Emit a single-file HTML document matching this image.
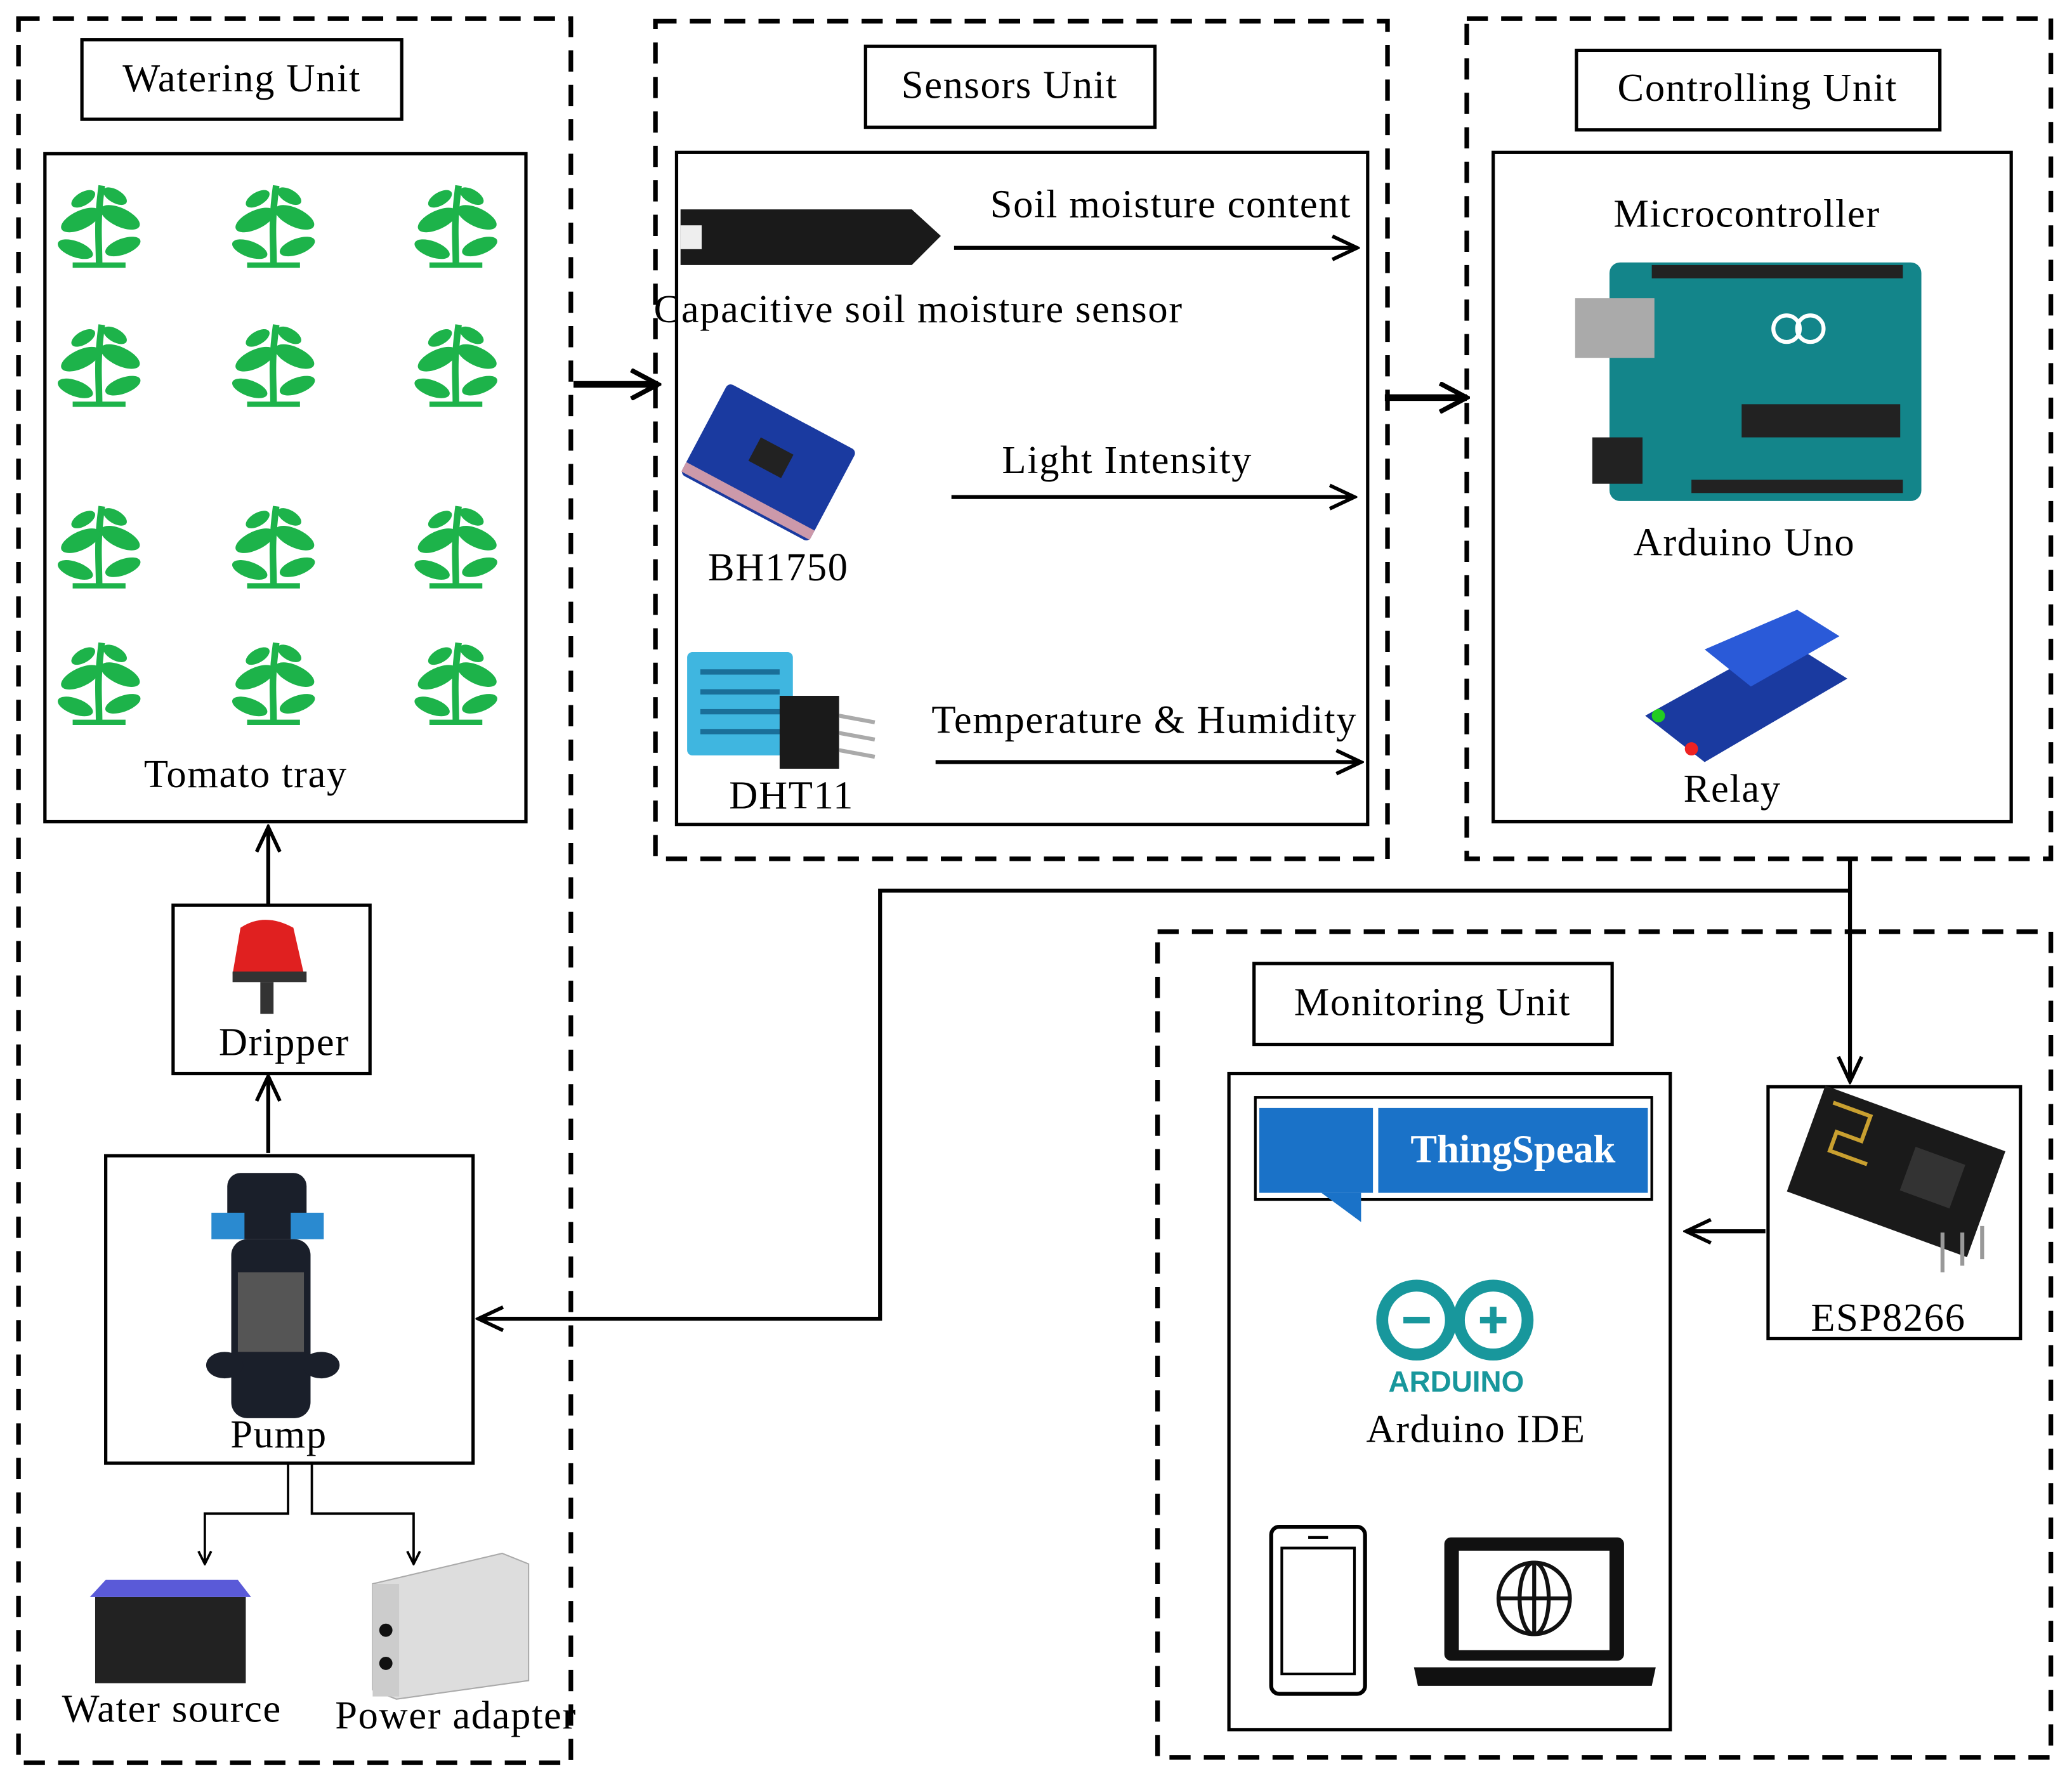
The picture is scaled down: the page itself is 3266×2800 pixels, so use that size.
<!DOCTYPE html>
<html><head><meta charset="utf-8"><style>html,body{margin:0;padding:0;background:#fff}svg{display:block}</style></head>
<body>
<svg width="3266" height="2800" viewBox="0 0 1568 1340" preserveAspectRatio="none" xmlns="http://www.w3.org/2000/svg" font-family="Liberation Serif, serif" font-size="30">
<defs>
<marker id="a" viewBox="0 0 20 20" refX="18" refY="10" markerWidth="22" markerHeight="22" orient="auto" markerUnits="userSpaceOnUse"><path d="M1,2 L18,10 L1,18" fill="none" stroke="#000" stroke-width="2.5"/></marker>
<marker id="s" viewBox="0 0 10 10" refX="9" refY="5" markerWidth="12" markerHeight="12" orient="auto" markerUnits="userSpaceOnUse"><path d="M1,1 L9,5 L1,9" fill="none" stroke="#000" stroke-width="1.5"/></marker>
<marker id="b" viewBox="0 0 20 20" refX="18" refY="10" markerWidth="24" markerHeight="24" orient="auto" markerUnits="userSpaceOnUse"><path d="M1,1 L18,10 L1,19" fill="none" stroke="#000" stroke-width="3"/></marker>
<g id="p"><path d="M0,30 C0,10 -2,0 2,-30" stroke="#1db34a" stroke-width="5" fill="none"/><ellipse cx="-14" cy="-4" rx="16" ry="7" fill="#1db34a" transform="rotate(-25 -14 -4)"/><ellipse cx="16" cy="-6" rx="16" ry="7" fill="#1db34a" transform="rotate(25 16 -6)"/><ellipse cx="-12" cy="-20" rx="10" ry="5" fill="#1db34a" transform="rotate(-30 -12 -20)"/><ellipse cx="12" cy="-22" rx="10" ry="5" fill="#1db34a" transform="rotate(30 12 -22)"/><ellipse cx="-18" cy="18" rx="14" ry="6" fill="#1db34a" transform="rotate(20 -18 18)"/><ellipse cx="18" cy="16" rx="14" ry="6" fill="#1db34a" transform="rotate(-20 18 16)"/><rect x="-20" y="28" width="40" height="4" fill="#1db34a"/></g>
</defs>
<g fill="none" stroke="#000" stroke-width="3.5" stroke-dasharray="16,10">
<rect x="14" y="14" width="418" height="1316"/>
<rect x="496" y="16" width="554" height="632"/>
<rect x="1110" y="14" width="442" height="634"/>
<rect x="876" y="703" width="676" height="623"/>
</g>
<g fill="none" stroke="#000" stroke-width="2.5">
<rect x="62" y="30" width="242" height="60"/>
<rect x="34" y="116" width="364" height="504"/>
<rect x="131" y="683" width="149" height="127"/>
<rect x="80" y="872" width="278" height="232"/>
<rect x="655" y="35" width="219" height="61"/>
<rect x="512" y="115" width="523" height="507"/>
<rect x="1193" y="38" width="275" height="60"/>
<rect x="1130" y="115" width="392" height="505"/>
<rect x="949" y="727" width="271" height="61"/>
<rect x="930" y="810" width="334" height="495"/>
<rect x="1338" y="820" width="191" height="190"/>
</g>
<g stroke="#000" stroke-width="3" fill="none">
<line x1="203" y1="682" x2="203" y2="624" marker-end="url(#a)"/>
<line x1="203" y1="870" x2="203" y2="812" marker-end="url(#a)"/>
<line x1="1400" y1="648" x2="1400" y2="816" marker-end="url(#a)"/>
<polyline points="1400,672 666,672 666,995 362,995" marker-end="url(#a)"/>
<line x1="1336" y1="929" x2="1276" y2="929" marker-end="url(#a)"/>
<line x1="722" y1="187" x2="1027" y2="187" marker-end="url(#a)"/>
<line x1="720" y1="375" x2="1025" y2="375" marker-end="url(#a)"/>
<line x1="708" y1="575" x2="1030" y2="575" marker-end="url(#a)"/>
<line x1="434" y1="290" x2="498" y2="290" stroke-width="5" marker-end="url(#b)"/>
<line x1="1048" y1="300" x2="1110" y2="300" stroke-width="5" marker-end="url(#b)"/>
</g>
<g stroke="#000" stroke-width="1.8" fill="none">
<polyline points="218,1104 218,1142 155,1142 155,1180" marker-end="url(#s)"/>
<polyline points="236,1104 236,1142 313,1142 313,1180" marker-end="url(#s)"/>
</g>
<g>
<use href="#p" x="75" y="170"/><use href="#p" x="207" y="170"/><use href="#p" x="345" y="170"/>
<use href="#p" x="75" y="275"/><use href="#p" x="207" y="275"/><use href="#p" x="345" y="275"/>
<use href="#p" x="75" y="412"/><use href="#p" x="207" y="412"/><use href="#p" x="345" y="412"/>
<use href="#p" x="75" y="515"/><use href="#p" x="207" y="515"/><use href="#p" x="345" y="515"/>
</g>
<path d="M182,700 Q200,688 222,700 L230,735 L176,735 Z" fill="#e02020"/><rect x="176" y="733" width="56" height="8" fill="#333"/><rect x="197" y="741" width="10" height="24" fill="#333"/>
<rect x="172" y="885" width="60" height="50" rx="10" fill="#1a1f2a"/><rect x="160" y="915" width="25" height="20" fill="#2a8ad0"/><rect x="220" y="915" width="25" height="20" fill="#2a8ad0"/><rect x="175" y="935" width="60" height="135" rx="12" fill="#1a1f2a"/><rect x="180" y="960" width="50" height="60" fill="#555"/><ellipse cx="170" cy="1030" rx="14" ry="10" fill="#1a1f2a"/><ellipse cx="243" cy="1030" rx="14" ry="10" fill="#1a1f2a"/>
<rect x="72" y="1205" width="114" height="65" fill="#222"/><path d="M68,1205 L190,1205 L180,1192 L80,1192 Z" fill="#5a5ad8"/>
<path d="M282,1195 L380,1172 L400,1180 L400,1268 L300,1282 L282,1275 Z" fill="#ddd" stroke="#aaa"/><rect x="282" y="1195" width="20" height="85" fill="#ccc"/><circle cx="292" cy="1230" r="5" fill="#111"/><circle cx="292" cy="1255" r="5" fill="#111"/>
<path d="M515,158 L690,158 L712,178 L690,200 L515,200 Z" fill="#1a1a1a"/><rect x="515" y="170" width="16" height="18" fill="#eee"/>
<g transform="rotate(28 582 348)"><rect x="527" y="310" width="110" height="78" rx="4" fill="#1a3aa0"/><rect x="568" y="335" width="28" height="20" fill="#222"/><rect x="527" y="378" width="110" height="8" fill="#c9a"/></g>
<rect x="520" y="492" width="80" height="78" rx="4" fill="#3fb6e0"/><g fill="#1a6f99"><rect x="530" y="505" width="60" height="4"/><rect x="530" y="520" width="60" height="4"/><rect x="530" y="535" width="60" height="4"/><rect x="530" y="550" width="60" height="4"/></g><rect x="590" y="525" width="45" height="55" fill="#1a1a1a"/><g stroke="#aaa" stroke-width="3"><line x1="635" y1="540" x2="662" y2="545"/><line x1="635" y1="553" x2="662" y2="558"/><line x1="635" y1="566" x2="662" y2="571"/></g>
<rect x="1218" y="198" width="236" height="180" rx="8" fill="#13858a"/><rect x="1192" y="225" width="60" height="45" fill="#aaa"/><rect x="1205" y="330" width="38" height="35" fill="#222"/><rect x="1318" y="305" width="120" height="25" fill="#222"/><rect x="1250" y="200" width="190" height="10" fill="#222"/><rect x="1280" y="362" width="160" height="10" fill="#222"/><circle cx="1352" cy="248" r="10" fill="none" stroke="#fff" stroke-width="3"/><circle cx="1370" cy="248" r="10" fill="none" stroke="#fff" stroke-width="3"/>
<path d="M1245,540 L1350,482 L1398,512 L1290,575 Z" fill="#1a3aa0"/><path d="M1290,490 L1360,460 L1392,480 L1325,518 Z" fill="#2a5ad8"/><circle cx="1255" cy="540" r="5" fill="#2c2"/><circle cx="1280" cy="565" r="5" fill="#e22"/>
<rect x="950" y="828" width="300" height="77" fill="#fff" stroke="#000" stroke-width="2"/><rect x="953" y="836" width="86" height="64" fill="#1a72c8"/><rect x="1043" y="836" width="204" height="64" fill="#1a72c8"/><path d="M1000,900 L1030,922 L1030,900 Z" fill="#1a72c8"/>
<text x="1145" y="877" font-size="30" font-weight="bold" fill="#fff" text-anchor="middle">ThingSpeak</text>
<g fill="none" stroke="#18979c" stroke-width="9"><circle cx="1072" cy="996" r="26"/><circle cx="1130" cy="996" r="26"/></g>
<g stroke="#18979c" stroke-width="5"><line x1="1062" y1="996" x2="1082" y2="996"/><line x1="1120" y1="996" x2="1140" y2="996"/><line x1="1130" y1="986" x2="1130" y2="1006"/></g>
<text x="1102" y="1050" font-family="Liberation Sans, sans-serif" font-weight="bold" font-size="22" fill="#18979c" text-anchor="middle">ARDUINO</text>
<rect x="962" y="1152" width="71" height="126" rx="6" fill="none" stroke="#000" stroke-width="3"/><rect x="970" y="1168" width="55" height="95" fill="none" stroke="#000" stroke-width="2"/><line x1="990" y1="1160" x2="1005" y2="1160" stroke="#000" stroke-width="2"/>
<rect x="1093" y="1160" width="136" height="93" rx="5" fill="#111"/><rect x="1104" y="1170" width="114" height="75" fill="#fff"/><path d="M1070,1258 L1253,1258 L1250,1272 L1073,1272 Z" fill="#111"/>
<g fill="none" stroke="#111" stroke-width="3"><circle cx="1161" cy="1206" r="27"/><ellipse cx="1161" cy="1206" rx="11" ry="27"/><line x1="1134" y1="1206" x2="1188" y2="1206"/><line x1="1161" y1="1179" x2="1161" y2="1233"/></g>
<g transform="rotate(20 1430 890)"><rect x="1360" y="840" width="145" height="85" fill="#1a1a1a"/><path d="M1370,850 h30 v20 h-20 v15 h30" stroke="#c9a030" stroke-width="3" fill="none"/><rect x="1440" y="860" width="40" height="35" fill="#333"/></g>
<g stroke="#999" stroke-width="3"><line x1="1470" y1="930" x2="1470" y2="960"/><line x1="1485" y1="930" x2="1485" y2="955"/><line x1="1500" y1="925" x2="1500" y2="950"/></g>
<g fill="#000" text-anchor="middle" letter-spacing="0.8">
<text x="183" y="69">Watering Unit</text>
<text x="186" y="594">Tomato tray</text>
<text x="215" y="796">Dripper</text>
<text x="211" y="1092">Pump</text>
<text x="130" y="1299">Water source</text>
<text x="345" y="1304">Power adapter</text>
<text x="764" y="74">Sensors Unit</text>
<text x="886" y="164">Soil moisture content</text>
<text x="695" y="243">Capacitive soil moisture sensor</text>
<text x="853" y="357">Light Intensity</text>
<text x="589" y="438">BH1750</text>
<text x="866" y="553">Temperature &amp; Humidity</text>
<text x="599" y="610">DHT11</text>
<text x="1330" y="76">Controlling Unit</text>
<text x="1322" y="171">Microcontroller</text>
<text x="1320" y="419">Arduino Uno</text>
<text x="1311" y="605">Relay</text>
<text x="1084" y="766">Monitoring Unit</text>
<text x="1117" y="1088">Arduino IDE</text>
<text x="1429" y="1004">ESP8266</text>
</g>
</svg>
</body></html>
